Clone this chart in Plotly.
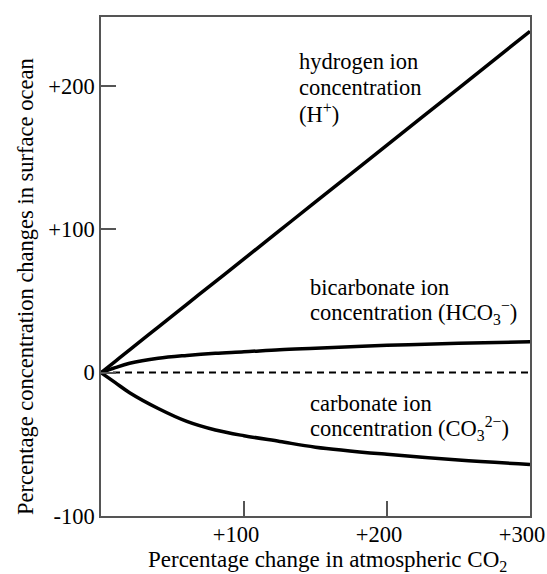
import plotly.graph_objects as go

# Data
co2_change = [0, 10, 20, 40, 60, 80, 100, 125, 150, 200, 250, 300]
hydrogen = [0, 7.9, 15.9, 31.7, 47.6, 63.5, 79.3, 99.2, 119, 158.7, 198.3, 238]
bicarbonate = [0, 3.5, 6.5, 10, 12, 13.5, 14.5, 16, 17, 19, 20.5, 21.5]
carbonate = [0, -7, -14, -25, -34, -40, -44, -48, -52, -57, -61, -64]
baseline = [0] * len(co2_change)

x_tickvals = [100, 200, 300]
x_ticktext = ["+100", "+200", "+300"]
y_tickvals = [-100, 0, 100, 200]
y_ticktext = ["-100", "0", "+100", "+200"]

FONT = "Liberation Serif"

W, H = 547, 574
ML, MR, MT, MB = 101, 17, 17, 58
PW, PH = W - ML - MR, H - MT - MB


def px(x):
    return (x - ML) / PW


def py(y):
    return (MT + PH - y) / PH


fig = go.Figure()
fig.add_trace(go.Scatter(x=co2_change, y=baseline, mode="lines",
                         line=dict(color="black", width=2, dash="7px,5px"),
                         hoverinfo="skip"))
for ys in (hydrogen, bicarbonate, carbonate):
    fig.add_trace(go.Scatter(x=co2_change, y=ys, mode="lines",
                             line=dict(color="black", width=3.5, shape="spline"),
                             hoverinfo="skip"))

ann_font = dict(family=FONT, size=22.5, color="black")
labels = [
    (297, 62, "hydrogen ion"),
    (297, 87, "concentration"),
    (297, 113, "(H<sup>+</sup>)"),
    (308, 287, "bicarbonate ion"),
    (308, 313, "concentration (HCO<sub>3</sub><sup>−</sup>)"),
    (308, 403, "carbonate ion"),
    (308, 428, "concentration (CO<sub>3</sub><sup>2−</sup>)"),
]
for lx, ly, t in labels:
    fig.add_annotation(x=px(lx), y=py(ly), xref="paper", yref="paper",
                       xanchor="left", yanchor="middle", align="left",
                       showarrow=False, text=t, font=ann_font)

# axis titles
fig.add_annotation(x=px(327), y=py(561), xref="paper", yref="paper",
                   xanchor="center", yanchor="middle", showarrow=False,
                   text="Percentage change in atmospheric CO<sub>2</sub>",
                   font=dict(family=FONT, size=23, color="black"))
fig.add_annotation(x=px(25), y=py(287), xref="paper", yref="paper",
                   xanchor="center", yanchor="middle", showarrow=False, textangle=-90,
                   text="Percentage concentration changes in surface ocean",
                   font=dict(family=FONT, size=22.5, color="black"))

axis_common = dict(showgrid=False, zeroline=False, showline=True, linecolor="#555",
                   linewidth=1.5, mirror=True, ticks="inside", ticklen=15,
                   tickcolor="#555", tickwidth=1.5, automargin=False,
                   tickfont=dict(family=FONT, size=22.5, color="black"))

fig.update_layout(
    width=W, height=H,
    margin=dict(l=ML, r=MR, t=MT, b=MB),
    paper_bgcolor="white", plot_bgcolor="white",
    showlegend=False,
    xaxis=dict(range=[0, 300], tickvals=x_tickvals, ticktext=x_ticktext,
               ticklabelshift=-8, ticklabelstandoff=-3, **axis_common),
    yaxis=dict(range=[-100, 248], tickvals=y_tickvals, ticktext=y_ticktext,
               **axis_common),
)

fig.write_html("out.html",
               config={"displayModeBar": False},
               post_script="document.body.style.margin='0';"
                           "document.body.style.overflow='hidden';")
